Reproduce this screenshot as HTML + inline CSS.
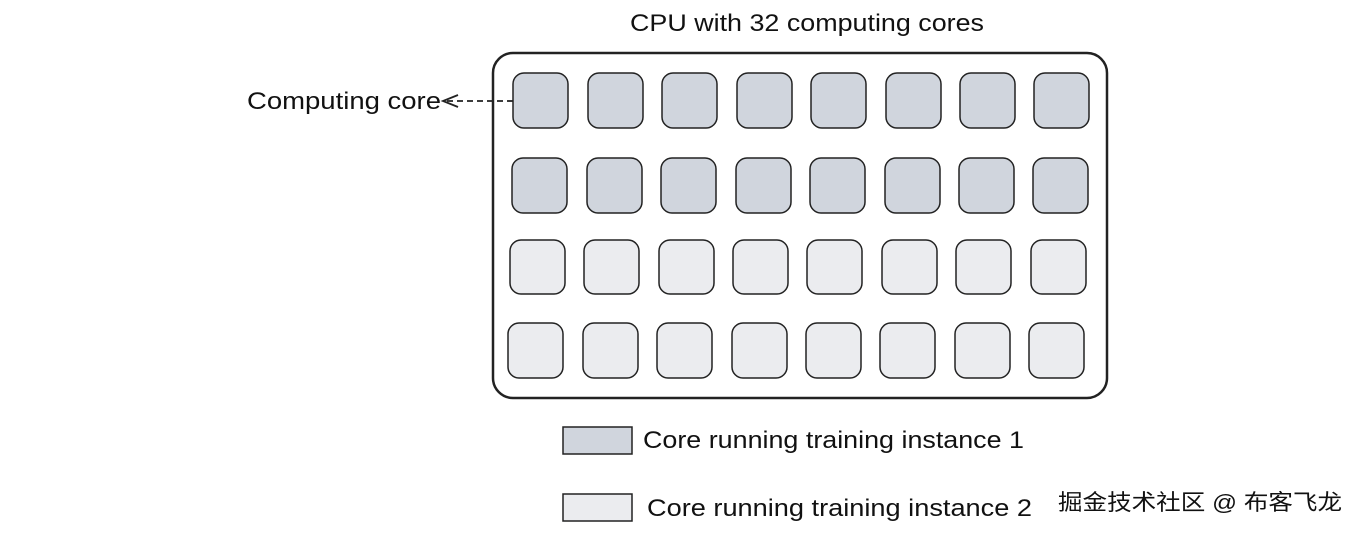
<!DOCTYPE html>
<html><head><meta charset="utf-8"><style>
html,body{margin:0;padding:0;background:#fff;width:1360px;height:533px;overflow:hidden}
svg text{font-family:"Liberation Sans","Noto Sans CJK SC",sans-serif;fill:#111}
</style></head><body>
<svg width="1360" height="533" viewBox="0 0 1360 533" xmlns="http://www.w3.org/2000/svg">
<text x="630" y="31" font-size="24" textLength="354" lengthAdjust="spacingAndGlyphs">CPU with 32 computing cores</text>
<rect x="493" y="53" width="614" height="345" rx="20" fill="#fff" stroke="#222" stroke-width="2.5"/>
<g stroke="#222" stroke-width="1.5">
<g fill="#d0d5dd">
<rect x="513" y="73" width="55" height="55" rx="11"/><rect x="588" y="73" width="55" height="55" rx="11"/><rect x="662" y="73" width="55" height="55" rx="11"/><rect x="737" y="73" width="55" height="55" rx="11"/><rect x="811" y="73" width="55" height="55" rx="11"/><rect x="886" y="73" width="55" height="55" rx="11"/><rect x="960" y="73" width="55" height="55" rx="11"/><rect x="1034" y="73" width="55" height="55" rx="11"/>
<rect x="512" y="158" width="55" height="55" rx="11"/><rect x="587" y="158" width="55" height="55" rx="11"/><rect x="661" y="158" width="55" height="55" rx="11"/><rect x="736" y="158" width="55" height="55" rx="11"/><rect x="810" y="158" width="55" height="55" rx="11"/><rect x="885" y="158" width="55" height="55" rx="11"/><rect x="959" y="158" width="55" height="55" rx="11"/><rect x="1033" y="158" width="55" height="55" rx="11"/>
</g>
<g fill="#ebecef">
<rect x="510" y="240" width="55" height="54" rx="11"/><rect x="584" y="240" width="55" height="54" rx="11"/><rect x="659" y="240" width="55" height="54" rx="11"/><rect x="733" y="240" width="55" height="54" rx="11"/><rect x="807" y="240" width="55" height="54" rx="11"/><rect x="882" y="240" width="55" height="54" rx="11"/><rect x="956" y="240" width="55" height="54" rx="11"/><rect x="1031" y="240" width="55" height="54" rx="11"/>
<rect x="508" y="323" width="55" height="55" rx="11"/><rect x="583" y="323" width="55" height="55" rx="11"/><rect x="657" y="323" width="55" height="55" rx="11"/><rect x="732" y="323" width="55" height="55" rx="11"/><rect x="806" y="323" width="55" height="55" rx="11"/><rect x="880" y="323" width="55" height="55" rx="11"/><rect x="955" y="323" width="55" height="55" rx="11"/><rect x="1029" y="323" width="55" height="55" rx="11"/>
</g>
<rect x="563" y="427" width="69" height="27" fill="#d0d5dd"/>
<rect x="563" y="494" width="69" height="27" fill="#ebecef"/>
</g>
<line x1="513" y1="101" x2="443" y2="101" stroke="#222" stroke-width="1.8" stroke-dasharray="6,4"/>
<polyline points="458,95 443,101 458,107" fill="none" stroke="#222" stroke-width="1.8"/>
<text x="247" y="109" font-size="24" textLength="194" lengthAdjust="spacingAndGlyphs">Computing core</text>
<text x="643" y="448" font-size="24" textLength="381" lengthAdjust="spacingAndGlyphs">Core running training instance 1</text>
<text x="647" y="516" font-size="24" textLength="385" lengthAdjust="spacingAndGlyphs">Core running training instance 2</text>
<text x="1058" y="510" font-size="22" textLength="284" lengthAdjust="spacingAndGlyphs" fill="#555">掘金技术社区 @ 布客飞龙</text>
</svg>
</body></html>
